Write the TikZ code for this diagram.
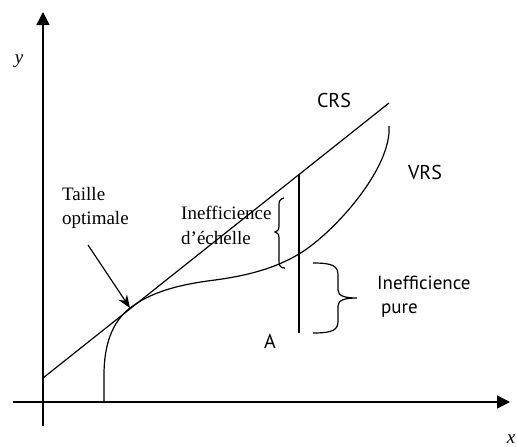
\documentclass[tikz,border=0pt]{standalone}
\usepackage{fontspec}
\setmainfont{Liberation Serif}
\newfontfamily\ptsans{PT Sans}
\usetikzlibrary{arrows.meta}
\begin{document}
\begin{tikzpicture}[x=1pt,y=-1pt,
  axis/.style={line width=1.4pt,-{Triangle[length=13pt,width=13pt]}},
  curve/.style={line width=1.2pt},
  serif/.style={font=\fontsize{19}{24.5}\selectfont, inner sep=0pt, align=left},
  sans/.style={font=\ptsans\fontsize{19}{24}\selectfont, inner sep=0pt, align=left},
  biglabel/.style={font=\ptsans\fontsize{20}{24}\selectfont, inner sep=0pt},
  varlabel/.style={font=\fontsize{19}{24}\selectfont\itshape, inner sep=0pt},
  ]
\useasboundingbox (0,0) rectangle (517,447);
% axes
\coordinate (ybot) at (43,426);
\coordinate (ytop) at (43,12);
\coordinate (xleft) at (13,402);
\coordinate (xright) at (510,402);
\draw[axis] (ybot) -- (ytop);
\draw[axis] (xleft) -- (xright);
\node[varlabel] (ylab) at (19,61) {y};
\node[varlabel] (xlab) at (511,439) {x};
% CRS frontier
\coordinate (crs0) at (43,378);
\coordinate (crs1) at (389,103);
\draw[curve] (crs0) -- (crs1);
\node[biglabel] (crslab) at (334,100) {CRS};
% VRS frontier
\coordinate (vrs0) at (104,402);
\coordinate (opt) at (130,308);
\draw[curve] (vrs0) -- (104,375) .. controls (104,345) and (112,322) .. (opt)
  .. controls (150,293) and (175,285) .. (215,280)
  .. controls (245,276) and (274,269) .. (299,254)
  .. controls (334,233) and (392,168) .. (389,126);
\node[biglabel] (vrslab) at (425,172) {VRS};
% vertical segment at A
\coordinate (vtop) at (299,174);
\coordinate (vbot) at (299,333);
\draw[curve] (vtop) -- (vbot);
\node[biglabel] (alab) at (270,341) {A};
% optimal size
\node[serif, anchor=north west] (taille) at (62,187) {Taille\\optimale};
\coordinate (tail) at (88,245);
\draw[curve,-{Stealth[length=13pt,width=10pt]}] (tail) -- (opt);
% scale inefficiency brace
\draw[curve] (284,198) .. controls (280,199) and (279,201) .. (279,205) -- (279,226)
  .. controls (279,230) and (277,232) .. (275,232)
  .. controls (277,232) and (279,234) .. (279,238) -- (279,262)
  .. controls (279,266) and (281,268) .. (285,268);
\node[serif, anchor=north west] (echelle) at (181,206) {Inefficience\\d'échelle};
% pure inefficiency brace
\draw[curve] (313,263) .. controls (333,263) and (338,266) .. (338,275) -- (338,290)
  .. controls (338,296) and (345,298) .. (357,298)
  .. controls (345,298) and (338,300) .. (338,306) -- (338,321)
  .. controls (338,330) and (333,333) .. (313,333);
\node[sans, anchor=north west] (pure) at (377,276) {Inefficience\\\hspace{4pt}pure};
\end{tikzpicture}
\end{document}
